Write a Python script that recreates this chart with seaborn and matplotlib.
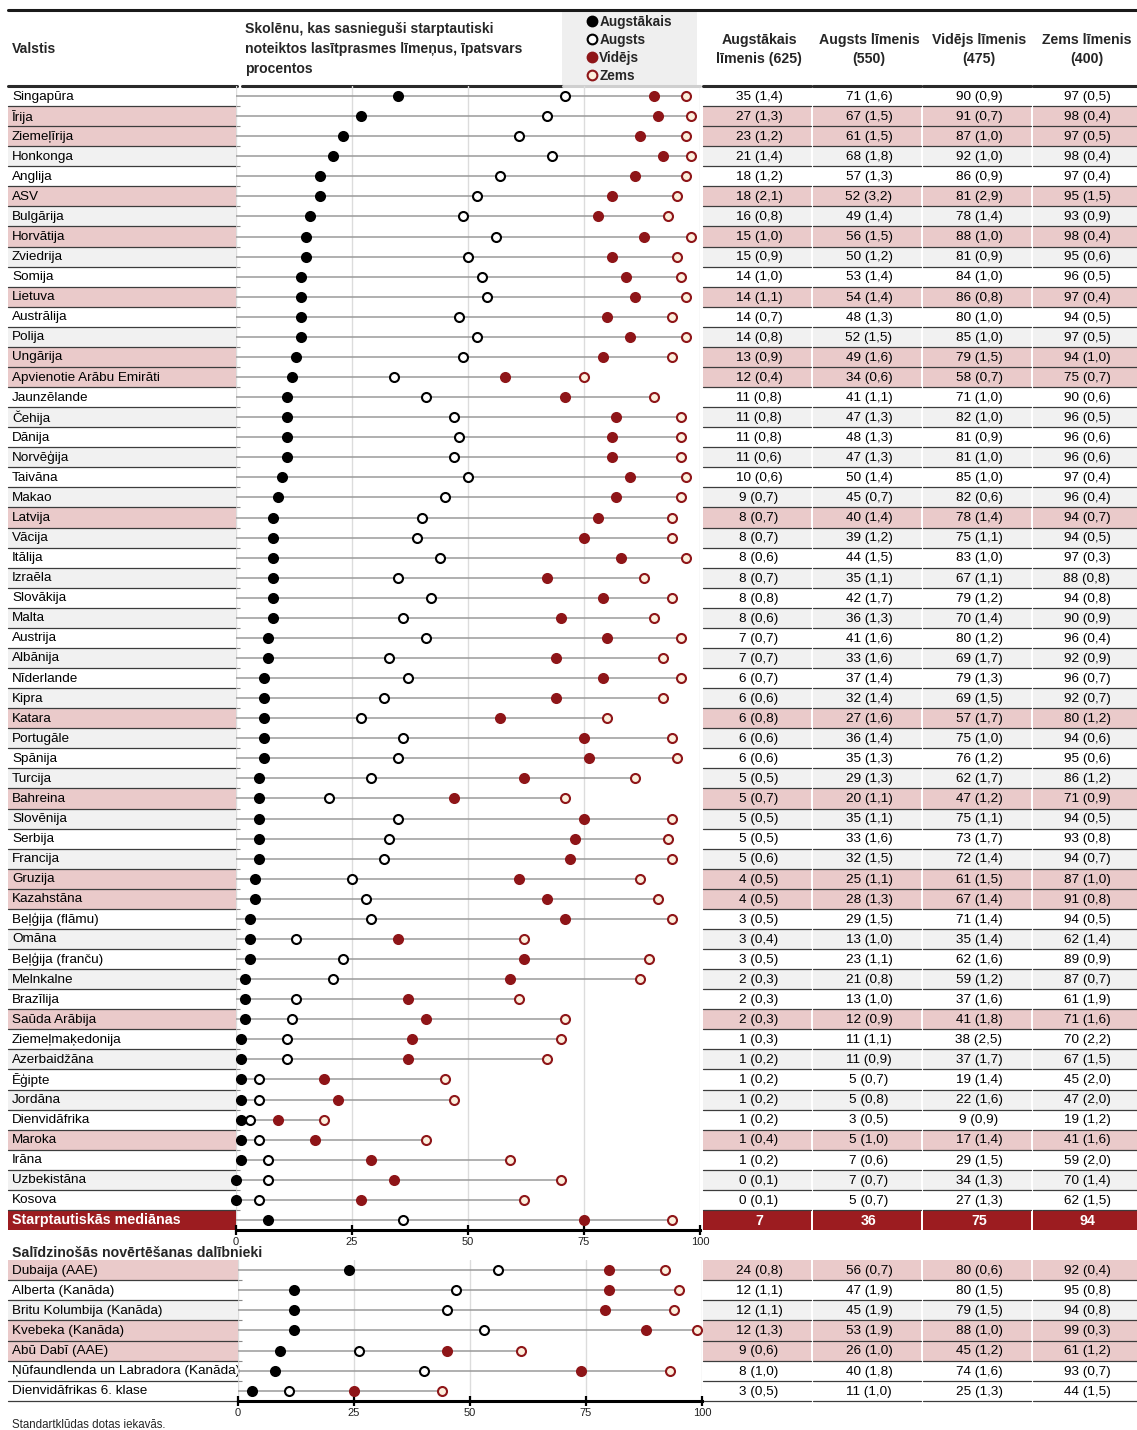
import numpy as np
import pandas as pd
import matplotlib
matplotlib.use("Agg")
import matplotlib.pyplot as plt
import seaborn as sns
from matplotlib.patches import Rectangle
from matplotlib.lines import Line2D

# ---------------- data ----------------
countries = ["Singapūra", "Īrija", "Ziemeļīrija", "Honkonga", "Anglija", "ASV", "Bulgārija",
             "Horvātija", "Zviedrija", "Somija", "Lietuva", "Austrālija", "Polija", "Ungārija",
             "Apvienotie Arābu Emirāti", "Jaunzēlande", "Čehija", "Dānija", "Norvēģija", "Taivāna",
             "Makao", "Latvija", "Vācija", "Itālija", "Izraēla", "Slovākija", "Malta", "Austrija",
             "Albānija", "Nīderlande", "Kipra", "Katara", "Portugāle", "Spānija", "Turcija",
             "Bahreina", "Slovēnija", "Serbija", "Francija", "Gruzija", "Kazahstāna",
             "Beļģija (flāmu)", "Omāna", "Beļģija (franču)", "Melnkalne", "Brazīlija",
             "Saūda Arābija", "Ziemeļmaķedonija", "Azerbaidžāna", "Ēģipte", "Jordāna",
             "Dienvidāfrika", "Maroka", "Irāna", "Uzbekistāna", "Kosova"]
row_style = list("wppgwpgpgwpwgppwgwgwgpgwgwgwgwgpgwgpgwgppwgwgwpwgwgwpwgw")

advanced = [35, 27, 23, 21, 18, 18, 16, 15, 15, 14, 14, 14, 14, 13, 12, 11, 11, 11, 11, 10, 9, 8, 8, 8,
            8, 8, 8, 7, 7, 6, 6, 6, 6, 6, 5, 5, 5, 5, 5, 4, 4, 3, 3, 3, 2, 2, 2, 1, 1, 1, 1, 1, 1, 1, 0, 0]
advanced_se = [1.4, 1.3, 1.2, 1.4, 1.2, 2.1, 0.8, 1.0, 0.9, 1.0, 1.1, 0.7, 0.8, 0.9, 0.4, 0.8, 0.8, 0.8,
               0.6, 0.6, 0.7, 0.7, 0.7, 0.6, 0.7, 0.8, 0.6, 0.7, 0.7, 0.7, 0.6, 0.8, 0.6, 0.6, 0.5, 0.7,
               0.5, 0.5, 0.6, 0.5, 0.5, 0.5, 0.4, 0.5, 0.3, 0.3, 0.3, 0.3, 0.2, 0.2, 0.2, 0.2, 0.4, 0.2,
               0.1, 0.1]
high = [71, 67, 61, 68, 57, 52, 49, 56, 50, 53, 54, 48, 52, 49, 34, 41, 47, 48, 47, 50, 45, 40, 39, 44,
        35, 42, 36, 41, 33, 37, 32, 27, 36, 35, 29, 20, 35, 33, 32, 25, 28, 29, 13, 23, 21, 13, 12, 11,
        11, 5, 5, 3, 5, 7, 7, 5]
high_se = [1.6, 1.5, 1.5, 1.8, 1.3, 3.2, 1.4, 1.5, 1.2, 1.4, 1.4, 1.3, 1.5, 1.6, 0.6, 1.1, 1.3, 1.3, 1.3,
           1.4, 0.7, 1.4, 1.2, 1.5, 1.1, 1.7, 1.3, 1.6, 1.6, 1.4, 1.4, 1.6, 1.4, 1.3, 1.3, 1.1, 1.1, 1.6,
           1.5, 1.1, 1.3, 1.5, 1.0, 1.1, 0.8, 1.0, 0.9, 1.1, 0.9, 0.7, 0.8, 0.5, 1.0, 0.6, 0.7, 0.7]
intermediate = [90, 91, 87, 92, 86, 81, 78, 88, 81, 84, 86, 80, 85, 79, 58, 71, 82, 81, 81, 85, 82, 78,
                75, 83, 67, 79, 70, 80, 69, 79, 69, 57, 75, 76, 62, 47, 75, 73, 72, 61, 67, 71, 35, 62,
                59, 37, 41, 38, 37, 19, 22, 9, 17, 29, 34, 27]
intermediate_se = [0.9, 0.7, 1.0, 1.0, 0.9, 2.9, 1.4, 1.0, 0.9, 1.0, 0.8, 1.0, 1.0, 1.5, 0.7, 1.0, 1.0,
                   0.9, 1.0, 1.0, 0.6, 1.4, 1.1, 1.0, 1.1, 1.2, 1.4, 1.2, 1.7, 1.3, 1.5, 1.7, 1.0, 1.2,
                   1.7, 1.2, 1.1, 1.7, 1.4, 1.5, 1.4, 1.4, 1.4, 1.6, 1.2, 1.6, 1.8, 2.5, 1.7, 1.4, 1.6,
                   0.9, 1.4, 1.5, 1.3, 1.3]
low = [97, 98, 97, 98, 97, 95, 93, 98, 95, 96, 97, 94, 97, 94, 75, 90, 96, 96, 96, 97, 96, 94, 94, 97,
       88, 94, 90, 96, 92, 96, 92, 80, 94, 95, 86, 71, 94, 93, 94, 87, 91, 94, 62, 89, 87, 61, 71, 70,
       67, 45, 47, 19, 41, 59, 70, 62]
low_se = [0.5, 0.4, 0.5, 0.4, 0.4, 1.5, 0.9, 0.4, 0.6, 0.5, 0.4, 0.5, 0.5, 1.0, 0.7, 0.6, 0.5, 0.6, 0.6,
          0.4, 0.4, 0.7, 0.5, 0.3, 0.8, 0.8, 0.9, 0.4, 0.9, 0.7, 0.7, 1.2, 0.6, 0.6, 1.2, 0.9, 0.5, 0.8,
          0.7, 1.0, 0.8, 0.5, 1.4, 0.9, 0.7, 1.9, 1.6, 2.2, 1.5, 2.0, 2.0, 1.2, 1.6, 2.0, 1.4, 1.5]

median_label = "Starptautiskās mediānas"
median_values = [7, 36, 75, 94]

bench_countries = ["Dubaija (AAE)", "Alberta (Kanāda)", "Britu Kolumbija (Kanāda)", "Kvebeka (Kanāda)",
                   "Abū Dabī (AAE)", "Ņūfaundlenda un Labradora (Kanāda)", "Dienvidāfrikas 6. klase"]
bench_style = list("pwgppww")
bench_advanced = [24, 12, 12, 12, 9, 8, 3]
bench_advanced_se = [0.8, 1.1, 1.1, 1.3, 0.6, 1.0, 0.5]
bench_high = [56, 47, 45, 53, 26, 40, 11]
bench_high_se = [0.7, 1.9, 1.9, 1.9, 1.0, 1.8, 1.0]
bench_intermediate = [80, 80, 79, 88, 45, 74, 25]
bench_intermediate_se = [0.6, 1.5, 1.5, 1.0, 1.2, 1.6, 1.3]
bench_low = [92, 95, 94, 99, 61, 93, 44]
bench_low_se = [0.4, 0.8, 0.8, 0.3, 1.2, 0.7, 1.5]

levels = ["Augstākais", "Augsts", "Vidējs", "Zems"]
col_headers = ["Augstākais\nlīmenis (625)", "Augsts līmenis\n(550)", "Vidējs līmenis\n(475)",
               "Zems līmenis\n(400)"]
title_text = "Skolēnu, kas sasnieguši starptautiski\nnoteiktos lasītprasmes līmeņus, īpatsvars\nprocentos"
ticks = [0, 25, 50, 75, 100]

# ---------------- style ----------------
sns.set_theme(style="white")
plt.rcParams["font.family"] = ["Liberation Sans", "DejaVu Sans"]

W, H = 1137, 1430
fig = plt.figure(figsize=(W / 100, H / 100), dpi=100)
bg = fig.add_axes([0, 0, 1, 1])
bg.set_xlim(0, W)
bg.set_ylim(H, 0)
bg.axis("off")

RED = "#8e1518"
FILL = {"p": "#eacaca", "g": "#f1f1f1", "w": "white", "m": "#9c1c20"}
SEP = "#3c3c3c"
marker_style = {
    "Augstākais": dict(color="black", edgecolor="black"),
    "Augsts": dict(color="white", edgecolor="black"),
    "Vidējs": dict(color=RED, edgecolor=RED),
    "Zems": dict(color="#fcefdc", edgecolor=RED),
}
table_cols = [(703, 811), (813, 921), (923, 1031), (1033, 1137)]
FS = 9.7


def fmt(v, se):
    return f"{v} ({se:.1f})".replace(".", ",")


def pix_axes(x0, x1, y0, y1):
    return fig.add_axes([x0 / W, 1 - y1 / H, (x1 - x0) / W, (y1 - y0) / H])


def draw_rows(top, pitch, names, styles, vals, ses, label_x1=236):
    n = len(names)
    for i in range(n):
        y0 = top + i * pitch
        st = styles[i]
        bg.add_patch(Rectangle((8, y0), label_x1 - 8, pitch, color=FILL[st], lw=0, zorder=1))
        tc = "white" if st == "m" else "black"
        fw = "bold" if st == "m" else "normal"
        bg.text(12, y0 + pitch / 2 + 0.5, names[i], fontsize=FS + (0.6 if st == "m" else 0), color=tc,
                fontweight=fw, va="center", ha="left", zorder=3)
        for j, (cx0, cx1) in enumerate(table_cols):
            bg.add_patch(Rectangle((cx0, y0), cx1 - cx0, pitch, color=FILL[st], lw=0, zorder=1))
            txt = str(vals[j][i]) if ses is None else fmt(vals[j][i], ses[j][i])
            bg.text((cx0 + cx1) / 2 + 2, y0 + pitch / 2 + 0.8, txt, fontsize=FS + (0.6 if st == "m" else 0),
                    color=tc, fontweight=fw, ha="center", va="center", zorder=3)
            if st != "m":
                bg.plot([cx0, cx1], [y0 + pitch, y0 + pitch], color=SEP, lw=0.9, zorder=2)
        if st != "m":
            bg.plot([8, label_x1], [y0 + pitch, y0 + pitch], color=SEP, lw=0.9, zorder=2)


def dot_axes(ax, df, nrows):
    ax.set_facecolor("none")
    for r, sub in df.groupby("row"):
        ax.hlines(r, 0, sub["value"].max(), color="#9a9a9a", lw=1.1, zorder=1)
    for lev in levels:
        sub = df[df["level"] == lev]
        sns.scatterplot(data=sub, x="value", y="row", ax=ax, s=42, linewidth=1.5, zorder=3,
                        legend=False, clip_on=False, **marker_style[lev])
    ax.set_xlim(0, 100)
    ax.set_ylim(nrows - 0.5, -0.5)
    ax.set_xticks(ticks)
    ax.set_xticklabels([str(t) for t in ticks], fontsize=8, color="#222222")
    ax.set_yticks(np.arange(nrows) + 0.5, minor=False)
    ax.set_yticklabels([])
    ax.tick_params(axis="y", direction="in", length=3, color="#888888", width=0.8, left=True)
    ax.tick_params(axis="x", direction="inout", length=7, width=1.6, color="black", bottom=True, pad=1.5)
    ax.grid(axis="x", color="#dcdcdc", lw=1)
    ax.grid(axis="y", visible=False)
    for s in ["top", "right", "left"]:
        ax.spines[s].set_visible(False)
    ax.spines["bottom"].set_color("black")
    ax.spines["bottom"].set_linewidth(2.2)
    ax.set_xlabel("")
    ax.set_ylabel("")


def long_df(adv, hi, mid, lo):
    rows = []
    for i in range(len(adv)):
        for lev, v in zip(levels, [adv[i], hi[i], mid[i], lo[i]]):
            rows.append({"row": i, "level": lev, "value": v})
    return pd.DataFrame(rows)


# ---------------- header ----------------
bg.plot([8, W], [10, 10], color="#1a1a1a", lw=2.2)
bg.text(12, 49, "Valstis", fontsize=FS + 0.4, fontweight="bold", va="center")
bg.text(245, 49, title_text, fontsize=FS + 0.4, fontweight="bold", va="center", linespacing=1.55)
bg.add_patch(Rectangle((562, 12), 135, 73, color="#efefef", lw=0))
for (cx0, cx1), h in zip(table_cols, col_headers):
    bg.text((cx0 + cx1) / 2 + 2, 49.5, h, fontsize=FS + 0.5, fontweight="bold", ha="center", va="center",
            linespacing=1.5)
    bg.plot([cx0, cx1], [86, 86], color="#2a2a2a", lw=2.2)
bg.plot([8, 237], [86, 86], color="#2a2a2a", lw=2.2)
bg.plot([242, 563], [86, 86], color="#2a2a2a", lw=2.2)
bg.plot([563, 700], [86, 86], color="#cfcfcf", lw=2.2)

handles = [Line2D([], [], ls="none", marker="o", markersize=7, markeredgewidth=1.5,
                  markerfacecolor=marker_style[l]["color"], markeredgecolor=marker_style[l]["edgecolor"])
           for l in levels]
fig.legend(handles, levels, loc="upper left", bbox_to_anchor=(589 / W, 1 - 15 / H), frameon=False,
           prop={"weight": "bold", "size": 9.8}, handlelength=0.5, handletextpad=0.25,
           labelspacing=0.3, borderpad=0, borderaxespad=0)

# ---------------- main block ----------------
pitch = 20.07
top = 86
n_main = len(countries) + 1
vals = [advanced + [median_values[0]], high + [median_values[1]],
        intermediate + [median_values[2]], low + [median_values[3]]]
draw_rows(top, pitch, countries, row_style, [v[:-1] for v in vals],
          [advanced_se, high_se, intermediate_se, low_se])
draw_rows(top + (n_main - 1) * pitch, pitch, [median_label], ["m"], [[v[-1]] for v in vals], None)

ax1 = pix_axes(236, 700, top, top + n_main * pitch)
df_main = long_df(*vals)
dot_axes(ax1, df_main, n_main)

# ---------------- benchmark block ----------------
bg.text(12, 1253, "Salīdzinošās novērtēšanas dalībnieki", fontsize=FS + 0.5, fontweight="bold",
        va="center")
btop = 1260
bpitch = 20.14
draw_rows(btop, bpitch, bench_countries, bench_style,
          [bench_advanced, bench_high, bench_intermediate, bench_low],
          [bench_advanced_se, bench_high_se, bench_intermediate_se, bench_low_se], label_x1=238)
ax2 = pix_axes(238, 702, btop, btop + len(bench_countries) * bpitch)
df_b = long_df(bench_advanced, bench_high, bench_intermediate, bench_low)
dot_axes(ax2, df_b, len(bench_countries))

bg.text(12, 1425, "Standartklūdas dotas iekavās.", fontsize=8.3, va="center")

fig.savefig("out.png", dpi=100)
